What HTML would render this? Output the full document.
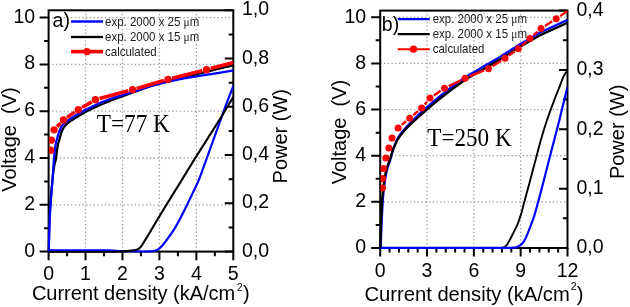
<!DOCTYPE html>
<html><head><meta charset="utf-8"><title>I-V and P-I characteristics</title>
<style>
html,body{margin:0;padding:0;background:#fff;}
body{width:630px;height:307px;overflow:hidden;font-family:"Liberation Sans",sans-serif;}
svg{display:block;will-change:transform;}
</style></head>
<body>
<svg width="630" height="307" viewBox="0 0 630 307">
<defs>
<clipPath id="cl"><rect x="47.4" y="9.3" width="185.90" height="243.50"/></clipPath>
<clipPath id="cr"><rect x="379.0" y="9.6" width="188.50" height="239.60"/></clipPath>
<clipPath id="cl2"><rect x="48.9" y="9.3" width="184.40" height="242.30"/></clipPath>
<clipPath id="cr2"><rect x="380.5" y="9.6" width="187.00" height="238.40"/></clipPath>
</defs>
<rect width="630" height="307" fill="#fff"/>
<g stroke="#9a9a9a" stroke-width="1.3" stroke-dasharray="1.3 2.45" fill="none"><line x1="85.54" y1="251.60" x2="85.54" y2="10.30"/><line x1="122.48" y1="251.60" x2="122.48" y2="10.30"/><line x1="159.42" y1="251.60" x2="159.42" y2="10.30"/><line x1="196.36" y1="251.60" x2="196.36" y2="10.30"/><line x1="48.60" y1="204.80" x2="233.30" y2="204.80"/><line x1="48.60" y1="158.00" x2="233.30" y2="158.00"/><line x1="48.60" y1="111.20" x2="233.30" y2="111.20"/><line x1="48.60" y1="64.40" x2="233.30" y2="64.40"/><line x1="48.60" y1="17.60" x2="233.30" y2="17.60"/></g><g stroke="#9a9a9a" stroke-width="1.3" stroke-dasharray="1.3 2.45" fill="none"><line x1="427.02" y1="248.00" x2="427.02" y2="10.60"/><line x1="473.85" y1="248.00" x2="473.85" y2="10.60"/><line x1="520.67" y1="248.00" x2="520.67" y2="10.60"/><line x1="380.20" y1="201.86" x2="567.50" y2="201.86"/><line x1="380.20" y1="155.72" x2="567.50" y2="155.72"/><line x1="380.20" y1="109.58" x2="567.50" y2="109.58"/><line x1="380.20" y1="63.44" x2="567.50" y2="63.44"/><line x1="380.20" y1="17.30" x2="567.50" y2="17.30"/></g><rect x="48.6" y="10.3" width="184.70" height="241.30" fill="none" stroke="#000" stroke-width="2"/><rect x="380.2" y="10.6" width="187.30" height="237.40" fill="none" stroke="#000" stroke-width="2"/><path d="M39.60,251.60 H48.60 M44.10,228.20 H48.60 M39.60,204.80 H48.60 M44.10,181.40 H48.60 M39.60,158.00 H48.60 M44.10,134.60 H48.60 M39.60,111.20 H48.60 M44.10,87.80 H48.60 M39.60,64.40 H48.60 M44.10,41.00 H48.60 M39.60,17.60 H48.60 M48.60,251.60 V260.20 M67.07,251.60 V256.20 M85.54,251.60 V260.20 M104.01,251.60 V256.20 M122.48,251.60 V260.20 M140.95,251.60 V256.20 M159.42,251.60 V260.20 M177.89,251.60 V256.20 M196.36,251.60 V260.20 M214.83,251.60 V256.20 M233.30,251.60 V260.20 M224.80,251.60 H233.30 M228.70,227.47 H233.30 M224.80,203.34 H233.30 M228.70,179.21 H233.30 M224.80,155.08 H233.30 M228.70,130.95 H233.30 M224.80,106.82 H233.30 M228.70,82.69 H233.30 M224.80,58.56 H233.30 M228.70,34.43 H233.30 M224.80,10.30 H233.30 M371.20,248.00 H380.20 M375.70,224.93 H380.20 M371.20,201.86 H380.20 M375.70,178.79 H380.20 M371.20,155.72 H380.20 M375.70,132.65 H380.20 M371.20,109.58 H380.20 M375.70,86.51 H380.20 M371.20,63.44 H380.20 M375.70,40.37 H380.20 M371.20,17.30 H380.20 M380.20,248.00 V256.60 M389.56,248.00 V252.60 M398.93,248.00 V252.60 M408.29,248.00 V252.60 M417.66,248.00 V252.60 M427.02,248.00 V256.60 M436.39,248.00 V252.60 M445.75,248.00 V252.60 M455.12,248.00 V252.60 M464.49,248.00 V252.60 M473.85,248.00 V256.60 M483.21,248.00 V252.60 M492.58,248.00 V252.60 M501.94,248.00 V252.60 M511.31,248.00 V252.60 M520.67,248.00 V256.60 M530.04,248.00 V252.60 M539.40,248.00 V252.60 M548.77,248.00 V252.60 M558.13,248.00 V252.60 M567.50,248.00 V256.60 M559.00,248.00 H567.50 M562.90,218.32 H567.50 M559.00,188.65 H567.50 M562.90,158.97 H567.50 M559.00,129.30 H567.50 M562.90,99.62 H567.50 M559.00,69.95 H567.50 M562.90,40.28 H567.50 M559.00,10.60 H567.50" stroke="#000" stroke-width="2" fill="none"/><g clip-path="url(#cl)"><path d="M48.60,250.40 L49.61,250.40 L50.61,250.40 L51.62,250.40 L52.63,250.40 L53.63,250.40 L54.64,250.40 L55.65,250.40 L56.65,250.40 L57.66,250.40 L58.67,250.40 L59.67,250.40 L60.68,250.40 L61.69,250.40 L62.69,250.40 L63.70,250.40 L64.70,250.40 L65.71,250.40 L66.72,250.40 L67.72,250.40 L68.73,250.40 L69.74,250.40 L70.74,250.40 L71.75,250.40 L72.76,250.40 L73.76,250.40 L74.77,250.40 L75.78,250.40 L76.78,250.40 L77.79,250.40 L78.80,250.40 L79.80,250.40 L80.81,250.40 L81.82,250.40 L82.82,250.40 L83.83,250.40 L84.84,250.40 L85.84,250.40 L86.85,250.40 L87.86,250.40 L88.86,250.40 L89.87,250.40 L90.88,250.40 L91.88,250.40 L92.89,250.40 L93.90,250.40 L94.90,250.40 L95.91,250.40 L96.91,250.40 L97.92,250.40 L98.93,250.40 L99.93,250.40 L100.94,250.40 L101.95,250.40 L102.95,250.40 L103.96,250.40 L104.97,250.40 L105.97,250.40 L106.98,250.40 L107.99,250.41 L108.99,250.43 L109.99,250.46 L111.00,250.50 L112.00,250.55 L113.00,250.62 L114.00,250.69 L115.00,250.76 L116.00,250.83 L117.00,250.91 L118.00,250.99 L119.00,251.07 L120.00,251.16 L121.00,251.24 L122.00,251.31 L123.00,251.38 L124.00,251.43 L125.00,251.47 L126.00,251.49 L127.00,251.50 L128.00,251.50 L129.00,251.50 L130.00,251.50 L131.00,251.50 L132.50,251.50 L133.50,251.50 L134.50,251.50 L135.50,251.50 L136.50,251.50 L138.00,251.50 L139.00,251.50 L140.50,251.50 L141.50,251.50 L143.00,251.50 L144.00,251.50 L145.00,251.50 L146.00,251.50 L147.00,251.49 L148.00,251.48 L149.00,251.46 L150.00,251.42 L151.00,251.36 L152.00,251.26 L153.00,251.13 L154.00,250.95 L154.99,250.70 L155.97,250.36 L156.93,249.94 L157.86,249.43 L158.75,248.86 L159.59,248.24 L160.39,247.57 L161.15,246.85 L161.87,246.09 L162.55,245.29 L163.21,244.47 L163.87,243.64 L164.52,242.80 L165.18,241.95 L165.83,241.11 L166.48,240.26 L167.13,239.41 L167.76,238.56 L168.38,237.71 L168.99,236.86 L169.60,236.00 L170.20,235.14 L170.80,234.29 L171.40,233.43 L171.99,232.57 L172.58,231.71 L173.16,230.85 L173.72,229.98 L174.26,229.11 L174.78,228.24 L175.28,227.36 L175.78,226.48 L176.28,225.60 L176.78,224.72 L177.27,223.84 L177.77,222.96 L178.26,222.08 L178.76,221.20 L179.24,220.31 L179.73,219.43 L180.20,218.54 L180.67,217.64 L181.12,216.74 L181.58,215.84 L182.03,214.94 L182.48,214.03 L182.94,213.13 L183.39,212.23 L183.84,211.32 L184.29,210.42 L184.74,209.52 L185.19,208.61 L185.64,207.71 L186.10,206.80 L186.55,205.89 L186.99,204.98 L187.44,204.07 L187.89,203.14 L188.33,202.22 L188.78,201.30 L189.22,200.37 L189.67,199.44 L190.11,198.52 L190.56,197.59 L191.00,196.67 L191.44,195.74 L191.89,194.81 L192.33,193.89 L192.77,192.96 L193.21,192.04 L193.65,191.11 L194.09,190.19 L194.53,189.26 L194.97,188.33 L195.40,187.41 L195.84,186.48 L196.28,185.56 L196.71,184.63 L197.15,183.70 L197.58,182.78 L198.01,181.85 L198.43,180.91 L198.83,179.98 L199.21,179.03 L199.58,178.08 L199.93,177.13 L200.29,176.18 L200.63,175.22 L200.98,174.27 L201.33,173.31 L201.67,172.36 L202.02,171.40 L202.37,170.44 L202.71,169.49 L203.06,168.53 L203.41,167.58 L203.75,166.62 L204.10,165.67 L204.45,164.71 L204.79,163.76 L205.14,162.80 L205.49,161.84 L205.83,160.89 L206.18,159.93 L206.52,158.98 L206.87,158.03 L207.21,157.08 L207.55,156.13 L207.89,155.18 L208.23,154.23 L208.57,153.28 L208.91,152.32 L209.25,151.38 L209.59,150.42 L209.93,149.47 L210.27,148.53 L210.61,147.58 L210.95,146.63 L211.29,145.68 L211.63,144.72 L211.97,143.78 L212.31,142.83 L212.65,141.88 L212.99,140.92 L213.33,139.98 L213.68,139.03 L214.02,138.07 L214.36,137.12 L214.71,136.17 L215.05,135.22 L215.40,134.27 L215.74,133.33 L216.09,132.37 L216.43,131.42 L216.78,130.47 L217.12,129.53 L217.47,128.58 L217.81,127.62 L218.16,126.67 L218.50,125.73 L218.85,124.78 L219.19,123.83 L219.54,122.88 L219.88,121.93 L220.22,120.98 L220.57,120.03 L220.91,119.08 L221.25,118.14 L221.59,117.19 L221.92,116.25 L222.26,115.31 L222.60,114.36 L222.94,113.42 L223.28,112.47 L223.62,111.53 L223.96,110.58 L224.30,109.64 L224.64,108.69 L224.98,107.75 L225.31,106.81 L225.66,105.86 L226.00,104.92 L226.35,103.97 L226.70,103.03 L227.06,102.08 L227.42,101.13 L227.79,100.19 L228.15,99.24 L228.52,98.30 L228.89,97.35 L229.26,96.41 L229.62,95.46 L229.99,94.51 L230.36,93.57 L230.73,92.62 L231.09,91.68 L231.46,90.73 L231.83,89.78 L232.20,88.84 L232.56,87.89 L232.93,86.95 L233.30,86.00" fill="none" stroke="#0000ff" stroke-width="2.2" stroke-linejoin="round" stroke-linecap="butt"/><path d="M48.60,252.00 L49.61,252.00 L50.61,252.00 L51.62,252.00 L52.63,252.00 L53.63,252.00 L54.64,252.00 L55.64,252.00 L56.65,252.00 L57.66,252.00 L58.66,252.00 L59.67,252.00 L60.68,252.00 L61.68,252.00 L62.69,252.00 L63.70,252.00 L64.70,252.00 L65.71,252.00 L66.71,252.00 L67.72,252.00 L68.73,252.00 L69.73,252.00 L70.74,252.00 L71.75,252.00 L72.75,252.00 L73.76,252.00 L74.77,252.00 L75.77,252.00 L76.78,252.00 L77.78,252.00 L78.79,252.00 L79.80,252.00 L80.80,252.00 L81.81,252.00 L82.82,252.00 L83.82,252.00 L84.83,252.00 L85.83,252.00 L86.84,252.00 L87.85,252.00 L88.85,252.00 L89.86,252.00 L90.87,252.00 L91.87,252.00 L92.88,252.00 L93.89,252.00 L94.89,252.00 L95.90,252.00 L96.90,252.00 L97.91,252.00 L98.92,252.00 L99.92,252.00 L100.93,252.00 L101.94,252.00 L102.94,252.00 L103.95,252.00 L104.96,252.00 L105.96,252.00 L106.97,252.00 L107.97,252.00 L108.98,252.00 L109.99,251.99 L110.99,251.99 L111.99,251.97 L113.00,251.95 L114.00,251.92 L115.00,251.89 L116.00,251.85 L117.00,251.81 L118.00,251.77 L119.00,251.72 L120.00,251.66 L121.00,251.59 L122.00,251.51 L123.00,251.43 L124.00,251.34 L125.00,251.25 L126.00,251.16 L127.00,251.07 L128.00,250.97 L129.00,250.87 L130.00,250.76 L131.00,250.64 L132.00,250.51 L133.00,250.38 L134.00,250.23 L134.99,250.07 L135.98,249.86 L137.40,249.43 L138.70,248.77 L139.83,247.85 L140.82,246.74 L141.43,245.93 L142.01,245.09 L142.57,244.23 L143.13,243.36 L143.67,242.48 L144.22,241.60 L144.76,240.72 L145.31,239.84 L145.85,238.96 L146.40,238.08 L146.94,237.20 L147.48,236.32 L148.01,235.45 L148.54,234.57 L149.07,233.70 L149.59,232.83 L150.10,231.97 L150.62,231.10 L151.14,230.23 L151.65,229.37 L152.17,228.50 L152.68,227.63 L153.20,226.77 L153.72,225.90 L154.23,225.03 L154.75,224.17 L155.26,223.30 L155.78,222.43 L156.29,221.57 L156.81,220.70 L157.33,219.83 L157.84,218.97 L158.36,218.10 L158.87,217.23 L159.39,216.37 L159.91,215.50 L160.42,214.63 L160.94,213.77 L161.45,212.90 L161.97,212.03 L162.49,211.17 L163.01,210.31 L163.54,209.44 L164.07,208.58 L164.60,207.72 L165.13,206.86 L165.67,206.00 L166.20,205.14 L166.73,204.28 L167.27,203.42 L167.80,202.56 L168.33,201.70 L168.87,200.84 L169.40,199.98 L169.93,199.12 L170.47,198.26 L171.00,197.40 L171.53,196.54 L172.07,195.68 L172.60,194.82 L173.13,193.96 L173.67,193.10 L174.20,192.24 L174.73,191.38 L175.27,190.52 L175.80,189.66 L176.33,188.80 L176.87,187.94 L177.40,187.08 L177.93,186.22 L178.46,185.36 L178.99,184.50 L179.52,183.64 L180.05,182.78 L180.58,181.92 L181.11,181.06 L181.63,180.20 L182.16,179.34 L182.68,178.48 L183.21,177.62 L183.74,176.76 L184.26,175.90 L184.79,175.04 L185.32,174.18 L185.84,173.32 L186.37,172.46 L186.89,171.61 L187.42,170.75 L187.95,169.89 L188.47,169.03 L189.00,168.17 L189.53,167.31 L190.05,166.45 L190.58,165.59 L191.11,164.73 L191.63,163.87 L192.16,163.01 L192.69,162.15 L193.21,161.29 L193.75,160.43 L194.28,159.58 L194.82,158.72 L195.36,157.87 L195.90,157.01 L196.44,156.16 L196.98,155.30 L197.52,154.45 L198.06,153.59 L198.60,152.74 L199.15,151.89 L199.69,151.03 L200.23,150.18 L200.77,149.32 L201.31,148.47 L201.85,147.61 L202.40,146.76 L202.94,145.91 L203.48,145.05 L204.02,144.20 L204.56,143.34 L205.10,142.49 L205.65,141.64 L206.19,140.78 L206.73,139.93 L207.27,139.08 L207.81,138.23 L208.35,137.38 L208.89,136.53 L209.43,135.68 L209.97,134.84 L210.50,133.99 L211.04,133.14 L211.58,132.29 L212.12,131.45 L212.66,130.60 L213.20,129.75 L213.74,128.90 L214.28,128.05 L214.82,127.21 L215.36,126.36 L215.90,125.51 L216.43,124.66 L216.97,123.82 L217.51,122.97 L218.05,122.12 L218.59,121.27 L219.12,120.41 L219.65,119.55 L220.18,118.69 L220.71,117.83 L221.24,116.96 L221.76,116.09 L222.28,115.23 L222.81,114.36 L223.33,113.49 L223.86,112.62 L224.38,111.75 L224.91,110.89 L225.43,110.02 L225.96,109.15 L226.48,108.28 L227.01,107.42 L227.53,106.55 L228.05,105.68 L228.58,104.81 L229.10,103.94 L229.63,103.08 L230.15,102.21 L230.68,101.34 L231.20,100.47 L231.73,99.60 L232.25,98.74 L232.78,97.87 L233.30,97.00" fill="none" stroke="#000" stroke-width="2.1" stroke-linejoin="round" stroke-linecap="butt"/><path d="M48.70,251.50 L48.72,250.50 L48.73,249.50 L48.75,248.50 L48.76,247.50 L48.78,246.50 L48.79,245.50 L48.81,244.50 L48.82,243.50 L48.84,242.50 L48.85,241.50 L48.87,240.50 L48.88,239.50 L48.90,238.50 L48.92,237.50 L48.93,236.50 L48.95,235.50 L48.96,234.50 L48.98,233.50 L49.00,232.50 L49.02,231.50 L49.05,230.50 L49.09,229.50 L49.12,228.50 L49.16,227.50 L49.19,226.50 L49.23,225.50 L49.26,224.50 L49.30,223.50 L49.34,222.50 L49.37,221.50 L49.41,220.50 L49.44,219.50 L49.48,218.50 L49.51,217.50 L49.55,216.50 L49.59,215.50 L49.64,214.50 L49.70,213.50 L49.77,212.50 L49.83,211.50 L49.90,210.50 L49.97,209.50 L50.03,208.50 L50.10,207.50 L50.17,206.50 L50.23,205.50 L50.30,204.50 L50.37,203.50 L50.43,202.50 L50.50,201.50 L50.57,200.50 L50.65,199.50 L50.74,198.50 L50.83,197.50 L50.93,196.50 L51.02,195.50 L51.11,194.50 L51.21,193.50 L51.30,192.50 L51.39,191.50 L51.49,190.50 L51.58,189.50 L51.67,188.50 L51.77,187.50 L51.86,186.50 L51.95,185.50 L52.05,184.50 L52.14,183.50 L52.23,182.50 L52.32,181.50 L52.42,180.50 L52.51,179.50 L52.60,178.50 L52.69,177.50 L52.78,176.50 L52.88,175.50 L52.97,174.50 L53.06,173.50 L53.17,172.50 L53.29,171.50 L53.45,170.50 L53.61,169.50 L53.77,168.50 L53.93,167.50 L54.09,166.50 L54.26,165.50 L54.45,164.50 L54.69,163.50 L54.99,162.50 L55.31,161.50 L55.60,160.50 L55.82,159.50 L55.97,158.50 L56.10,157.50 L56.22,156.50 L56.34,155.50 L56.46,154.50 L56.58,153.50 L56.70,152.50 L56.82,151.50 L56.95,150.50 L57.11,149.50 L57.28,148.50 L57.46,147.50 L57.65,146.50 L57.84,145.50 L58.02,144.50 L58.23,143.50 L58.47,142.50 L58.75,141.50 L59.05,140.50 L59.35,139.50 L59.64,138.50 L59.93,137.50 L60.21,136.50 L60.50,135.50 L60.79,134.50 L61.08,133.50 L61.39,132.51 L61.75,131.54 L62.16,130.59 L62.60,129.65 L63.05,128.71 L63.52,127.80 L64.07,126.95 L64.69,126.15 L65.35,125.38 L66.06,124.65 L66.81,123.97 L67.60,123.32 L68.40,122.68 L69.20,122.05 L70.02,121.44 L70.86,120.86 L71.71,120.31 L72.57,119.77 L73.43,119.23 L74.29,118.69 L75.14,118.14 L76.00,117.61 L76.87,117.08 L77.74,116.56 L78.61,116.03 L79.48,115.51 L80.35,114.99 L81.22,114.47 L82.09,113.95 L82.96,113.43 L83.83,112.90 L84.70,112.38 L85.57,111.88 L86.46,111.40 L87.36,110.95 L88.26,110.52 L89.16,110.09 L90.06,109.65 L90.97,109.22 L91.87,108.79 L92.77,108.36 L93.68,107.93 L94.58,107.49 L95.48,107.06 L96.39,106.63 L97.29,106.20 L98.19,105.76 L99.10,105.34 L100.02,104.92 L100.96,104.52 L101.92,104.13 L102.88,103.75 L103.84,103.36 L104.80,102.98 L105.76,102.60 L106.72,102.21 L107.68,101.83 L108.64,101.44 L109.60,101.06 L110.56,100.68 L111.52,100.30 L112.47,99.93 L113.42,99.58 L114.37,99.23 L115.32,98.88 L116.26,98.54 L117.21,98.19 L118.16,97.84 L119.11,97.49 L120.05,97.15 L121.00,96.80 L121.95,96.45 L122.89,96.11 L123.84,95.76 L124.79,95.41 L125.74,95.06 L126.68,94.72 L127.63,94.37 L128.58,94.02 L129.53,93.67 L130.48,93.33 L131.43,92.98 L132.38,92.63 L133.33,92.28 L134.29,91.94 L135.24,91.59 L136.19,91.24 L137.14,90.89 L138.10,90.55 L139.05,90.20 L140.00,89.85 L140.95,89.50 L141.90,89.15 L142.86,88.81 L143.81,88.46 L144.76,88.11 L145.71,87.76 L146.67,87.42 L147.62,87.07 L148.57,86.72 L149.53,86.39 L150.49,86.07 L151.46,85.78 L152.43,85.50 L153.41,85.22 L154.38,84.94 L155.35,84.65 L156.32,84.37 L157.30,84.09 L158.27,83.81 L159.24,83.53 L160.22,83.25 L161.19,82.97 L162.16,82.69 L163.14,82.41 L164.11,82.12 L165.08,81.84 L166.05,81.56 L167.03,81.28 L168.01,81.02 L169.00,80.77 L170.00,80.53 L171.00,80.29 L172.00,80.06 L173.00,79.82 L174.00,79.59 L175.00,79.35 L176.00,79.12 L177.00,78.88 L178.00,78.65 L179.00,78.41 L180.00,78.18 L181.00,77.94 L182.00,77.71 L183.00,77.47 L184.00,77.23 L185.00,77.00 L186.00,76.76 L187.00,76.52 L188.00,76.28 L189.00,76.04 L190.00,75.80 L191.00,75.56 L192.00,75.32 L193.00,75.08 L194.00,74.84 L195.00,74.60 L196.00,74.36 L197.00,74.12 L198.00,73.88 L199.00,73.64 L200.00,73.39 L201.00,73.14 L202.00,72.88 L203.00,72.62 L204.00,72.36 L205.00,72.10 L206.00,71.84 L207.00,71.58 L208.00,71.32 L209.00,71.06 L210.00,70.80 L211.00,70.54 L212.00,70.28 L213.00,70.02 L214.00,69.76 L215.00,69.51 L215.99,69.28 L216.98,69.05 L217.97,68.82 L218.96,68.59 L219.95,68.36 L220.94,68.14 L221.92,67.91 L222.91,67.68 L223.90,67.46 L224.89,67.23 L225.88,67.00 L226.87,66.78 L227.86,66.55 L228.85,66.32 L229.84,66.09 L230.83,65.87 L231.82,65.64 L232.81,65.41 L233.30,65.30" fill="none" stroke="#000" stroke-width="2.3" stroke-linejoin="round" stroke-linecap="butt"/><path d="M48.70,251.50 L48.73,250.50 L48.76,249.50 L48.79,248.50 L48.82,247.50 L48.85,246.50 L48.88,245.50 L48.92,244.50 L48.95,243.50 L48.98,242.50 L49.01,241.50 L49.04,240.50 L49.07,239.50 L49.10,238.50 L49.13,237.50 L49.16,236.50 L49.19,235.50 L49.22,234.50 L49.25,233.50 L49.29,232.50 L49.32,231.50 L49.35,230.50 L49.39,229.50 L49.42,228.50 L49.46,227.50 L49.49,226.50 L49.53,225.50 L49.56,224.50 L49.60,223.50 L49.64,222.50 L49.67,221.50 L49.71,220.50 L49.74,219.50 L49.78,218.50 L49.81,217.50 L49.85,216.50 L49.89,215.50 L49.94,214.50 L50.00,213.50 L50.07,212.50 L50.13,211.50 L50.20,210.50 L50.27,209.50 L50.33,208.50 L50.40,207.50 L50.47,206.50 L50.53,205.50 L50.60,204.50 L50.67,203.50 L50.73,202.50 L50.80,201.50 L50.87,200.50 L50.94,199.50 L51.02,198.50 L51.10,197.50 L51.18,196.50 L51.25,195.50 L51.33,194.50 L51.41,193.50 L51.49,192.50 L51.57,191.50 L51.65,190.50 L51.73,189.50 L51.80,188.50 L51.88,187.50 L51.96,186.50 L52.04,185.50 L52.12,184.50 L52.20,183.50 L52.29,182.50 L52.37,181.50 L52.45,180.50 L52.53,179.50 L52.61,178.50 L52.70,177.50 L52.78,176.50 L52.86,175.50 L52.93,174.50 L53.00,173.50 L53.07,172.50 L53.13,171.50 L53.20,170.50 L53.27,169.50 L53.33,168.50 L53.40,167.50 L53.47,166.50 L53.53,165.50 L53.60,164.50 L53.67,163.50 L53.73,162.50 L53.80,161.50 L53.87,160.50 L53.95,159.50 L54.03,158.50 L54.12,157.50 L54.21,156.50 L54.29,155.50 L54.38,154.50 L54.47,153.50 L54.56,152.50 L54.68,151.50 L54.80,150.50 L54.93,149.50 L55.07,148.50 L55.20,147.50 L55.35,146.50 L55.51,145.50 L55.70,144.50 L55.90,143.50 L56.10,142.50 L56.32,141.50 L56.56,140.50 L56.82,139.50 L57.10,138.50 L57.38,137.50 L57.67,136.50 L57.97,135.50 L58.28,134.50 L58.60,133.50 L58.92,132.50 L59.27,131.50 L59.66,130.50 L60.10,129.50 L60.57,128.50 L61.04,127.51 L61.55,126.57 L62.11,125.68 L62.72,124.84 L63.42,124.04 L64.22,123.28 L65.10,122.54 L66.00,121.84 L66.89,121.19 L67.78,120.56 L68.67,119.94 L69.55,119.33 L70.42,118.75 L71.28,118.21 L72.14,117.68 L73.00,117.15 L73.86,116.62 L74.71,116.09 L75.57,115.57 L76.44,115.06 L77.30,114.56 L78.17,114.06 L79.04,113.57 L79.91,113.07 L80.78,112.57 L81.65,112.08 L82.52,111.58 L83.39,111.09 L84.26,110.59 L85.13,110.10 L86.01,109.62 L86.91,109.17 L87.81,108.74 L88.71,108.30 L89.61,107.87 L90.52,107.44 L91.42,107.01 L92.32,106.57 L93.23,106.14 L94.13,105.71 L95.03,105.28 L95.94,104.85 L96.84,104.41 L97.74,103.98 L98.65,103.55 L99.56,103.13 L100.49,102.73 L101.44,102.35 L102.40,101.98 L103.36,101.61 L104.32,101.24 L105.28,100.88 L106.24,100.51 L107.20,100.14 L108.16,99.77 L109.12,99.40 L110.08,99.04 L111.04,98.67 L112.01,98.33 L112.97,98.01 L113.95,97.71 L114.92,97.41 L115.89,97.11 L116.86,96.81 L117.84,96.52 L118.81,96.22 L119.78,95.92 L120.76,95.62 L121.73,95.33 L122.70,95.03 L123.68,94.73 L124.65,94.44 L125.62,94.14 L126.59,93.84 L127.57,93.54 L128.54,93.25 L129.51,92.95 L130.47,92.64 L131.43,92.34 L132.38,92.03 L133.33,91.72 L134.29,91.41 L135.24,91.10 L136.19,90.79 L137.14,90.48 L138.10,90.17 L139.05,89.86 L140.00,89.55 L140.95,89.24 L141.90,88.93 L142.86,88.62 L143.81,88.31 L144.76,88.00 L145.71,87.69 L146.67,87.38 L147.62,87.07 L148.57,86.77 L149.53,86.47 L150.49,86.18 L151.46,85.92 L152.43,85.66 L153.41,85.41 L154.38,85.16 L155.35,84.90 L156.32,84.65 L157.30,84.39 L158.27,84.14 L159.24,83.89 L160.22,83.63 L161.19,83.38 L162.16,83.12 L163.14,82.87 L164.11,82.62 L165.08,82.36 L166.05,82.11 L167.03,81.86 L168.01,81.62 L169.00,81.40 L170.00,81.20 L171.00,81.00 L172.00,80.80 L173.00,80.60 L174.00,80.40 L175.00,80.20 L176.00,80.00 L177.00,79.80 L178.00,79.60 L179.00,79.40 L180.00,79.20 L181.00,79.00 L182.00,78.80 L183.00,78.60 L184.00,78.40 L185.00,78.22 L186.00,78.04 L187.00,77.88 L188.00,77.72 L189.00,77.56 L190.00,77.40 L191.00,77.24 L192.00,77.08 L193.00,76.92 L194.00,76.76 L195.00,76.60 L196.00,76.44 L197.00,76.28 L198.00,76.12 L199.00,75.96 L200.00,75.80 L201.00,75.64 L202.00,75.48 L203.00,75.32 L204.00,75.16 L205.00,75.00 L206.00,74.85 L207.00,74.70 L208.00,74.55 L209.00,74.40 L210.00,74.25 L211.00,74.10 L212.00,73.95 L213.00,73.80 L214.00,73.65 L215.00,73.50 L215.99,73.34 L216.98,73.18 L217.97,73.01 L218.96,72.85 L219.95,72.69 L220.94,72.53 L221.92,72.36 L222.91,72.20 L223.90,72.04 L224.89,71.88 L225.88,71.72 L226.87,71.55 L227.86,71.39 L228.85,71.23 L229.84,71.07 L230.83,70.91 L231.82,70.74 L232.81,70.58 L233.30,70.50" fill="none" stroke="#0000ff" stroke-width="2.3" stroke-linejoin="round" stroke-linecap="butt"/></g><g clip-path="url(#cl2)"><path d="M57.06,126.68 L60.54,123.02 M67.04,117.46 L74.76,112.14 M82.01,107.53 L91.69,101.87 M99.55,98.57 L128.45,90.73 M136.73,88.41 L163.87,80.59 M172.17,78.35 L202.33,70.75 M210.65,68.58 L233.30,62.50" stroke="#ff0000" stroke-width="3.6" fill="none"/><g fill="#ff0000"><circle cx="50.7" cy="150.2" r="3.65"/><circle cx="51.3" cy="140.2" r="3.65"/><circle cx="54.1" cy="129.8" r="3.65"/><circle cx="63.5" cy="119.9" r="3.65"/><circle cx="78.3" cy="109.7" r="3.65"/><circle cx="95.4" cy="99.7" r="3.65"/><circle cx="132.6" cy="89.6" r="3.65"/><circle cx="168" cy="79.4" r="3.65"/><circle cx="206.5" cy="69.7" r="3.65"/></g></g><g clip-path="url(#cr)"><path d="M380.20,248.00 L381.20,248.00 L382.21,248.00 L383.21,248.00 L384.21,248.00 L385.21,248.00 L386.22,248.00 L387.22,248.00 L388.22,248.00 L389.22,248.00 L390.23,248.00 L391.23,248.00 L392.23,248.00 L393.23,248.00 L394.24,248.00 L395.24,248.00 L396.24,248.00 L397.24,248.00 L398.25,248.00 L399.25,248.00 L400.25,248.00 L401.25,248.00 L402.26,248.00 L403.26,248.00 L404.26,248.00 L405.26,248.00 L406.27,248.00 L407.27,248.00 L408.27,248.00 L409.27,248.00 L410.28,248.00 L411.28,248.00 L412.28,248.00 L413.28,248.00 L414.29,248.00 L415.29,248.00 L416.29,248.00 L417.29,248.00 L418.30,248.00 L419.30,248.00 L420.30,248.00 L421.30,248.00 L422.31,248.00 L423.31,248.00 L424.31,248.00 L425.31,248.00 L426.32,248.00 L427.32,248.00 L428.32,248.00 L429.32,248.00 L430.33,248.00 L431.33,248.00 L432.33,248.00 L433.33,248.00 L434.34,248.00 L435.34,248.00 L436.34,248.00 L437.34,248.00 L438.35,248.00 L439.35,248.00 L440.35,248.00 L441.35,248.00 L442.36,248.00 L443.36,248.00 L444.36,248.00 L445.36,248.00 L446.37,248.00 L447.37,248.00 L448.37,248.00 L449.37,248.00 L450.38,248.00 L451.38,248.00 L452.38,248.00 L453.38,248.00 L454.39,248.00 L455.39,248.00 L456.39,248.00 L457.39,248.00 L458.40,248.00 L459.40,248.00 L460.40,248.00 L461.40,248.00 L462.41,248.00 L463.41,248.00 L464.41,248.00 L465.41,248.00 L466.42,248.00 L467.42,248.00 L468.42,248.00 L469.42,248.00 L470.43,248.00 L471.43,248.00 L472.43,248.00 L473.43,248.00 L474.44,248.00 L475.44,248.00 L476.44,248.00 L477.44,248.00 L478.45,248.00 L479.45,248.00 L480.45,248.00 L481.45,248.00 L482.46,248.00 L483.46,248.00 L484.46,248.00 L485.46,248.00 L486.47,248.00 L487.47,248.00 L488.47,248.00 L489.47,248.00 L490.48,248.00 L491.48,248.00 L492.48,248.00 L493.48,248.00 L494.49,248.00 L495.49,248.00 L496.49,248.00 L497.49,247.99 L498.50,247.98 L499.50,247.95 L500.50,247.90 L501.99,247.74 L503.44,247.42 L504.80,246.80 L505.62,246.20 L506.35,245.46 L507.00,244.63 L507.60,243.74 L508.15,242.83 L508.68,241.90 L509.20,240.97 L509.71,240.04 L510.20,239.12 L510.69,238.19 L511.17,237.27 L511.64,236.35 L512.11,235.43 L512.57,234.52 L513.03,233.61 L513.48,232.70 L513.92,231.80 L514.37,230.90 L514.81,230.00 L515.25,229.10 L515.69,228.20 L516.13,227.30 L516.57,226.40 L517.00,225.49 L517.41,224.57 L517.81,223.64 L518.18,222.69 L518.54,221.72 L518.88,220.75 L519.21,219.77 L519.54,218.79 L519.86,217.81 L520.19,216.83 L520.51,215.85 L520.83,214.87 L521.14,213.89 L521.44,212.91 L521.71,211.93 L521.98,210.96 L522.23,209.98 L522.48,209.01 L522.73,208.04 L522.97,207.06 L523.22,206.09 L523.47,205.12 L523.72,204.14 L523.97,203.15 L524.23,202.16 L524.50,201.15 L524.78,200.13 L525.06,199.11 L525.34,198.09 L525.62,197.07 L525.91,196.05 L526.18,195.05 L526.45,194.06 L526.72,193.08 L526.98,192.11 L527.25,191.14 L527.51,190.17 L527.77,189.21 L528.03,188.24 L528.30,187.28 L528.56,186.31 L528.82,185.34 L529.08,184.38 L529.34,183.41 L529.61,182.45 L529.87,181.48 L530.12,180.51 L530.38,179.54 L530.64,178.56 L530.90,177.59 L531.15,176.62 L531.41,175.64 L531.67,174.67 L531.92,173.69 L532.18,172.72 L532.44,171.74 L532.69,170.77 L532.95,169.79 L533.21,168.82 L533.46,167.85 L533.72,166.87 L533.97,165.90 L534.23,164.92 L534.49,163.95 L534.74,162.97 L535.00,162.00 L535.26,161.03 L535.51,160.05 L535.77,159.08 L536.03,158.10 L536.28,157.13 L536.54,156.15 L536.79,155.18 L537.05,154.21 L537.31,153.23 L537.56,152.26 L537.82,151.28 L538.08,150.31 L538.33,149.33 L538.59,148.36 L538.85,147.38 L539.10,146.41 L539.36,145.44 L539.62,144.46 L539.89,143.49 L540.15,142.52 L540.43,141.56 L540.71,140.59 L540.99,139.63 L541.27,138.67 L541.55,137.70 L541.83,136.74 L542.11,135.78 L542.39,134.81 L542.67,133.85 L542.96,132.89 L543.24,131.92 L543.53,130.95 L543.83,129.97 L544.14,128.99 L544.45,127.99 L544.76,127.00 L545.08,126.00 L545.40,125.00 L545.72,124.00 L546.04,123.00 L546.36,122.01 L546.69,121.02 L547.02,120.04 L547.35,119.07 L547.69,118.10 L548.03,117.15 L548.37,116.19 L548.71,115.24 L549.06,114.29 L549.40,113.33 L549.74,112.38 L550.09,111.43 L550.43,110.47 L550.78,109.52 L551.13,108.56 L551.48,107.60 L551.83,106.64 L552.18,105.68 L552.54,104.72 L552.89,103.76 L553.24,102.80 L553.59,101.84 L553.95,100.88 L554.30,99.92 L554.66,98.97 L555.03,98.01 L555.40,97.06 L555.78,96.11 L556.17,95.17 L556.56,94.22 L556.94,93.28 L557.33,92.33 L557.72,91.39 L558.10,90.44 L558.48,89.48 L558.85,88.53 L559.22,87.57 L559.59,86.61 L559.96,85.64 L560.32,84.68 L560.69,83.71 L561.05,82.75 L561.41,81.79 L561.78,80.82 L562.15,79.86 L562.52,78.90 L562.91,77.94 L563.33,76.99 L563.79,76.06 L564.29,75.14 L564.84,74.23 L565.41,73.33 L566.00,72.43 L566.60,71.54 L567.20,70.65 L567.50,70.20" fill="none" stroke="#000" stroke-width="1.9" stroke-linejoin="round" stroke-linecap="butt"/><path d="M380.20,247.80 L381.20,247.80 L382.20,247.80 L383.21,247.80 L384.21,247.80 L385.21,247.80 L386.21,247.80 L387.22,247.80 L388.22,247.80 L389.22,247.80 L390.22,247.80 L391.23,247.80 L392.23,247.80 L393.23,247.80 L394.23,247.80 L395.23,247.80 L396.24,247.80 L397.24,247.80 L398.24,247.80 L399.24,247.80 L400.25,247.80 L401.25,247.80 L402.25,247.80 L403.25,247.80 L404.25,247.80 L405.26,247.80 L406.26,247.80 L407.26,247.80 L408.26,247.80 L409.27,247.80 L410.27,247.80 L411.27,247.80 L412.27,247.80 L413.28,247.80 L414.28,247.80 L415.28,247.80 L416.28,247.80 L417.28,247.80 L418.29,247.80 L419.29,247.80 L420.29,247.80 L421.29,247.80 L422.30,247.80 L423.30,247.80 L424.30,247.80 L425.30,247.80 L426.30,247.80 L427.31,247.80 L428.31,247.80 L429.31,247.80 L430.31,247.80 L431.32,247.80 L432.32,247.80 L433.32,247.80 L434.32,247.80 L435.33,247.80 L436.33,247.80 L437.33,247.80 L438.33,247.80 L439.33,247.80 L440.34,247.80 L441.34,247.80 L442.34,247.80 L443.34,247.80 L444.35,247.80 L445.35,247.80 L446.35,247.80 L447.35,247.80 L448.36,247.80 L449.36,247.80 L450.36,247.80 L451.36,247.80 L452.36,247.80 L453.37,247.80 L454.37,247.80 L455.37,247.80 L456.37,247.80 L457.38,247.80 L458.38,247.80 L459.38,247.80 L460.38,247.80 L461.38,247.80 L462.39,247.80 L463.39,247.80 L464.39,247.80 L465.39,247.80 L466.40,247.80 L467.40,247.80 L468.40,247.80 L469.40,247.80 L470.41,247.80 L471.41,247.80 L472.41,247.80 L473.41,247.80 L474.41,247.80 L475.42,247.80 L476.42,247.80 L477.42,247.80 L478.42,247.80 L479.43,247.80 L480.43,247.80 L481.43,247.80 L482.43,247.80 L483.43,247.80 L484.44,247.80 L485.44,247.80 L486.44,247.80 L487.44,247.80 L488.45,247.80 L489.45,247.80 L490.45,247.80 L491.45,247.80 L492.46,247.80 L493.46,247.80 L494.46,247.80 L495.46,247.80 L496.46,247.80 L497.47,247.80 L498.47,247.80 L499.47,247.80 L500.47,247.80 L501.48,247.80 L502.48,247.80 L503.48,247.80 L504.48,247.80 L505.49,247.80 L506.49,247.80 L507.49,247.80 L508.49,247.80 L509.49,247.79 L510.50,247.78 L511.50,247.76 L512.50,247.72 L513.50,247.66 L514.50,247.56 L515.50,247.40 L516.50,247.16 L517.49,246.82 L518.48,246.37 L519.44,245.81 L520.36,245.17 L521.22,244.45 L522.02,243.68 L522.74,242.85 L523.38,242.00 L523.96,241.11 L524.49,240.22 L524.99,239.31 L525.47,238.40 L525.92,237.47 L526.34,236.54 L526.75,235.61 L527.15,234.67 L527.54,233.73 L527.92,232.78 L528.30,231.84 L528.68,230.89 L529.05,229.93 L529.42,228.98 L529.78,228.02 L530.14,227.06 L530.50,226.10 L530.86,225.14 L531.22,224.18 L531.58,223.22 L531.94,222.26 L532.30,221.30 L532.66,220.34 L533.02,219.38 L533.37,218.42 L533.71,217.45 L534.03,216.49 L534.34,215.52 L534.63,214.55 L534.91,213.57 L535.19,212.60 L535.46,211.62 L535.74,210.65 L536.01,209.67 L536.28,208.69 L536.55,207.72 L536.83,206.74 L537.10,205.77 L537.37,204.79 L537.65,203.81 L537.92,202.84 L538.19,201.86 L538.46,200.88 L538.72,199.90 L538.99,198.91 L539.25,197.92 L539.51,196.93 L539.77,195.94 L540.03,194.96 L540.29,193.97 L540.55,192.98 L540.81,191.99 L541.07,191.00 L541.32,190.01 L541.58,189.03 L541.83,188.05 L542.08,187.07 L542.33,186.08 L542.59,185.10 L542.84,184.12 L543.09,183.14 L543.34,182.16 L543.59,181.18 L543.84,180.19 L544.10,179.21 L544.35,178.23 L544.60,177.25 L544.85,176.27 L545.10,175.29 L545.36,174.31 L545.61,173.32 L545.86,172.34 L546.11,171.36 L546.36,170.38 L546.61,169.40 L546.87,168.42 L547.12,167.44 L547.37,166.45 L547.62,165.47 L547.88,164.49 L548.13,163.51 L548.38,162.53 L548.64,161.55 L548.89,160.56 L549.15,159.58 L549.40,158.60 L549.65,157.62 L549.91,156.64 L550.16,155.65 L550.42,154.67 L550.67,153.69 L550.93,152.71 L551.18,151.73 L551.44,150.75 L551.69,149.76 L551.95,148.78 L552.20,147.80 L552.45,146.82 L552.71,145.84 L552.96,144.85 L553.22,143.87 L553.47,142.89 L553.73,141.91 L553.98,140.93 L554.24,139.95 L554.49,138.97 L554.74,137.99 L555.00,137.01 L555.25,136.03 L555.50,135.06 L555.75,134.09 L556.01,133.11 L556.26,132.14 L556.51,131.17 L556.76,130.20 L557.01,129.23 L557.26,128.26 L557.51,127.29 L557.77,126.31 L558.02,125.34 L558.27,124.37 L558.52,123.40 L558.77,122.43 L559.02,121.45 L559.27,120.47 L559.51,119.48 L559.76,118.49 L560.00,117.50 L560.24,116.50 L560.48,115.50 L560.72,114.50 L560.96,113.50 L561.20,112.50 L561.44,111.51 L561.68,110.51 L561.92,109.52 L562.16,108.54 L562.41,107.56 L562.65,106.58 L562.89,105.60 L563.13,104.62 L563.38,103.64 L563.62,102.66 L563.86,101.68 L564.10,100.70 L564.35,99.72 L564.59,98.74 L564.83,97.77 L565.07,96.79 L565.32,95.81 L565.56,94.83 L565.80,93.85 L566.04,92.87 L566.29,91.89 L566.53,90.91 L566.77,89.94 L567.01,88.96 L567.26,87.98 L567.50,87.00" fill="none" stroke="#0000ff" stroke-width="2.2" stroke-linejoin="round" stroke-linecap="butt"/><path d="M380.60,248.00 L380.64,247.00 L380.68,246.00 L380.72,245.00 L380.76,244.00 L380.80,243.00 L380.84,242.00 L380.88,241.00 L380.92,240.00 L380.96,239.00 L381.00,238.00 L381.04,237.00 L381.08,236.00 L381.12,235.00 L381.15,234.00 L381.19,233.00 L381.23,232.00 L381.27,231.00 L381.31,230.00 L381.35,229.00 L381.38,228.00 L381.42,227.00 L381.46,226.00 L381.50,225.00 L381.55,224.00 L381.59,223.00 L381.64,222.00 L381.68,221.00 L381.73,220.00 L381.78,219.00 L381.82,218.00 L381.87,217.00 L381.92,216.00 L381.96,215.00 L382.01,214.00 L382.05,213.00 L382.10,212.00 L382.16,211.00 L382.22,210.00 L382.28,209.00 L382.33,208.00 L382.39,207.00 L382.45,206.00 L382.51,205.00 L382.57,204.00 L382.63,203.00 L382.68,202.00 L382.74,201.00 L382.81,200.00 L382.89,199.00 L382.98,198.00 L383.07,197.00 L383.16,196.00 L383.25,195.00 L383.34,194.00 L383.43,193.00 L383.52,192.00 L383.61,191.00 L383.72,190.00 L383.83,189.00 L383.96,188.00 L384.09,187.00 L384.22,186.00 L384.35,185.00 L384.48,184.00 L384.61,183.00 L384.74,182.00 L384.87,181.00 L385.02,180.00 L385.18,179.00 L385.36,178.00 L385.53,177.00 L385.71,176.00 L385.89,175.00 L386.07,174.00 L386.25,173.00 L386.43,172.00 L386.65,171.00 L386.91,170.00 L387.20,169.00 L387.50,168.00 L387.80,167.00 L388.11,166.00 L388.43,165.00 L388.79,164.00 L389.16,163.00 L389.54,162.00 L389.91,161.00 L390.26,160.00 L390.56,159.00 L390.84,158.00 L391.11,157.00 L391.38,156.00 L391.65,155.00 L391.92,154.00 L392.19,153.00 L392.46,152.00 L392.74,151.00 L393.04,150.02 L393.37,149.05 L393.72,148.10 L394.08,147.15 L394.44,146.20 L394.80,145.25 L395.16,144.30 L395.52,143.35 L395.88,142.40 L396.25,141.45 L396.66,140.52 L397.12,139.59 L397.62,138.68 L398.13,137.77 L398.64,136.87 L399.17,135.97 L399.74,135.09 L400.36,134.24 L401.00,133.40 L401.64,132.56 L402.30,131.72 L402.98,130.89 L403.68,130.07 L404.40,129.25 L405.12,128.43 L405.84,127.62 L406.57,126.83 L407.29,126.06 L408.02,125.29 L408.75,124.53 L409.47,123.76 L410.21,123.01 L410.95,122.25 L411.70,121.50 L412.45,120.75 L413.20,120.00 L413.95,119.25 L414.70,118.50 L415.46,117.76 L416.21,117.01 L416.97,116.27 L417.73,115.53 L418.49,114.79 L419.24,114.05 L420.00,113.33 L420.75,112.64 L421.50,111.98 L422.25,111.31 L423.00,110.65 L423.75,109.99 L424.50,109.33 L425.25,108.66 L426.01,108.00 L426.78,107.34 L427.55,106.68 L428.32,106.03 L429.10,105.37 L429.87,104.71 L430.65,104.05 L431.42,103.39 L432.19,102.74 L432.97,102.08 L433.74,101.42 L434.52,100.76 L435.29,100.10 L436.06,99.45 L436.84,98.79 L437.62,98.13 L438.40,97.49 L439.20,96.85 L440.00,96.22 L440.80,95.58 L441.60,94.95 L442.40,94.32 L443.20,93.68 L444.00,93.05 L444.80,92.42 L445.60,91.78 L446.40,91.15 L447.20,90.52 L448.00,89.88 L448.80,89.25 L449.60,88.63 L450.41,88.01 L451.22,87.42 L452.03,86.83 L452.84,86.24 L453.65,85.65 L454.46,85.06 L455.27,84.47 L456.08,83.88 L456.89,83.29 L457.70,82.70 L458.51,82.11 L459.32,81.52 L460.14,80.94 L460.95,80.35 L461.76,79.76 L462.57,79.17 L463.38,78.58 L464.19,77.99 L465.03,77.43 L465.89,76.89 L466.77,76.37 L467.65,75.85 L468.53,75.33 L469.41,74.81 L470.29,74.29 L471.18,73.78 L472.06,73.26 L472.94,72.74 L473.82,72.22 L474.71,71.71 L475.59,71.19 L476.47,70.67 L477.35,70.15 L478.24,69.64 L479.12,69.12 L480.00,68.60 L480.87,68.09 L481.74,67.58 L482.61,67.07 L483.48,66.57 L484.35,66.06 L485.22,65.55 L486.09,65.04 L486.96,64.53 L487.83,64.02 L488.70,63.51 L489.57,63.00 L490.43,62.50 L491.30,61.99 L492.17,61.48 L493.04,60.97 L493.91,60.46 L494.78,59.95 L495.65,59.44 L496.52,58.93 L497.39,58.43 L498.26,57.92 L499.13,57.41 L499.99,56.89 L500.85,56.36 L501.70,55.82 L502.55,55.28 L503.40,54.74 L504.26,54.20 L505.11,53.66 L505.96,53.12 L506.81,52.58 L507.66,52.04 L508.51,51.50 L509.36,50.96 L510.21,50.41 L511.06,49.87 L511.91,49.33 L512.77,48.79 L513.62,48.25 L514.47,47.71 L515.32,47.17 L516.17,46.63 L517.02,46.09 L517.87,45.55 L518.72,45.01 L519.58,44.48 L520.44,43.95 L521.30,43.44 L522.17,42.94 L523.04,42.43 L523.91,41.93 L524.78,41.43 L525.65,40.92 L526.52,40.42 L527.39,39.91 L528.26,39.41 L529.13,38.90 L530.00,38.40 L530.87,37.90 L531.74,37.39 L532.61,36.89 L533.48,36.38 L534.35,35.88 L535.22,35.37 L536.09,34.87 L536.96,34.37 L537.83,33.86 L538.70,33.36 L539.57,32.87 L540.47,32.40 L541.38,31.97 L542.29,31.54 L543.21,31.12 L544.13,30.70 L545.04,30.27 L545.96,29.85 L546.88,29.43 L547.79,29.00 L548.71,28.58 L549.63,28.16 L550.54,27.73 L551.46,27.31 L552.38,26.89 L553.29,26.46 L554.21,26.04 L555.13,25.62 L556.04,25.19 L556.96,24.77 L557.88,24.35 L558.79,23.92 L559.71,23.50 L560.62,23.08 L561.54,22.65 L562.46,22.23 L563.38,21.80 L564.29,21.38 L565.21,20.96 L566.12,20.53 L567.04,20.11 L567.50,19.90" fill="none" stroke="#0000ff" stroke-width="2.3" stroke-linejoin="round" stroke-linecap="butt"/><path d="M380.30,248.00 L380.33,247.00 L380.36,246.00 L380.39,245.00 L380.42,244.00 L380.45,243.00 L380.48,242.00 L380.51,241.00 L380.54,240.00 L380.57,239.00 L380.60,238.00 L380.63,237.00 L380.66,236.00 L380.69,235.00 L380.72,234.00 L380.75,233.00 L380.78,232.00 L380.82,231.00 L380.85,230.00 L380.88,229.00 L380.91,228.00 L380.94,227.00 L380.97,226.00 L381.00,225.00 L381.04,224.00 L381.08,223.00 L381.12,222.00 L381.15,221.00 L381.19,220.00 L381.23,219.00 L381.27,218.00 L381.31,217.00 L381.35,216.00 L381.38,215.00 L381.42,214.00 L381.46,213.00 L381.50,212.00 L381.55,211.00 L381.60,210.00 L381.65,209.00 L381.70,208.00 L381.75,207.00 L381.80,206.00 L381.85,205.00 L381.90,204.00 L381.95,203.00 L382.00,202.00 L382.05,201.00 L382.12,200.00 L382.19,199.00 L382.28,198.00 L382.37,197.00 L382.46,196.00 L382.55,195.00 L382.64,194.00 L382.73,193.00 L382.82,192.00 L382.91,191.00 L383.02,190.00 L383.13,189.00 L383.26,188.00 L383.39,187.00 L383.52,186.00 L383.65,185.00 L383.78,184.00 L383.91,183.00 L384.04,182.00 L384.17,181.00 L384.32,180.00 L384.49,179.00 L384.68,178.00 L384.87,177.00 L385.06,176.00 L385.24,175.00 L385.43,174.00 L385.62,173.00 L385.82,172.00 L386.04,171.00 L386.31,170.00 L386.60,169.00 L386.90,168.00 L387.20,167.00 L387.51,166.00 L387.84,165.00 L388.21,164.00 L388.60,163.00 L389.00,162.00 L389.39,161.00 L389.76,160.00 L390.08,159.00 L390.38,158.00 L390.67,157.00 L390.96,156.00 L391.25,155.00 L391.54,154.00 L391.83,153.00 L392.12,152.00 L392.42,151.00 L392.76,150.02 L393.14,149.06 L393.56,148.11 L393.99,147.16 L394.43,146.21 L394.86,145.26 L395.29,144.32 L395.72,143.37 L396.16,142.42 L396.61,141.48 L397.10,140.56 L397.64,139.65 L398.20,138.75 L398.76,137.85 L399.34,136.97 L399.94,136.12 L400.56,135.30 L401.20,134.50 L401.84,133.70 L402.49,132.90 L403.16,132.11 L403.85,131.33 L404.55,130.55 L405.25,129.77 L405.95,129.00 L406.66,128.25 L407.36,127.51 L408.07,126.78 L408.78,126.05 L409.49,125.33 L410.22,124.61 L410.95,123.90 L411.70,123.20 L412.45,122.50 L413.20,121.80 L413.95,121.10 L414.70,120.41 L415.46,119.72 L416.21,119.03 L416.97,118.34 L417.73,117.66 L418.49,116.97 L419.24,116.29 L420.00,115.61 L420.75,114.94 L421.50,114.28 L422.25,113.61 L423.00,112.95 L423.75,112.29 L424.50,111.63 L425.25,110.96 L426.01,110.30 L426.78,109.65 L427.55,109.00 L428.32,108.35 L429.10,107.69 L429.87,107.04 L430.65,106.39 L431.42,105.74 L432.19,105.09 L432.97,104.44 L433.74,103.78 L434.52,103.13 L435.29,102.48 L436.06,101.83 L436.84,101.18 L437.62,100.53 L438.40,99.89 L439.20,99.26 L440.00,98.63 L440.80,98.01 L441.60,97.38 L442.40,96.75 L443.20,96.13 L444.00,95.50 L444.80,94.87 L445.60,94.25 L446.40,93.62 L447.20,92.99 L448.00,92.37 L448.80,91.74 L449.60,91.12 L450.41,90.51 L451.22,89.92 L452.03,89.33 L452.84,88.74 L453.65,88.15 L454.46,87.56 L455.27,86.97 L456.08,86.38 L456.89,85.79 L457.70,85.20 L458.51,84.61 L459.32,84.02 L460.14,83.44 L460.95,82.85 L461.76,82.26 L462.57,81.67 L463.38,81.08 L464.19,80.50 L465.03,79.93 L465.89,79.39 L466.77,78.88 L467.65,78.36 L468.53,77.85 L469.41,77.34 L470.29,76.83 L471.18,76.32 L472.06,75.81 L472.94,75.29 L473.82,74.78 L474.71,74.27 L475.59,73.76 L476.47,73.25 L477.35,72.74 L478.24,72.22 L479.12,71.71 L480.00,71.20 L480.87,70.69 L481.74,70.18 L482.61,69.67 L483.48,69.17 L484.35,68.66 L485.22,68.15 L486.09,67.64 L486.96,67.13 L487.83,66.62 L488.70,66.11 L489.57,65.60 L490.43,65.10 L491.30,64.59 L492.17,64.08 L493.04,63.57 L493.91,63.06 L494.78,62.55 L495.65,62.04 L496.52,61.53 L497.39,61.03 L498.26,60.52 L499.13,60.01 L499.99,59.49 L500.85,58.96 L501.70,58.42 L502.55,57.88 L503.40,57.34 L504.26,56.80 L505.11,56.26 L505.96,55.72 L506.81,55.18 L507.66,54.64 L508.51,54.10 L509.36,53.56 L510.21,53.01 L511.06,52.47 L511.91,51.93 L512.77,51.39 L513.62,50.85 L514.47,50.31 L515.32,49.77 L516.17,49.23 L517.02,48.69 L517.87,48.15 L518.72,47.61 L519.58,47.08 L520.44,46.56 L521.30,46.05 L522.17,45.55 L523.04,45.05 L523.91,44.55 L524.78,44.05 L525.65,43.55 L526.52,43.05 L527.39,42.55 L528.26,42.05 L529.13,41.55 L530.00,41.05 L530.87,40.55 L531.74,40.05 L532.61,39.55 L533.48,39.05 L534.35,38.55 L535.22,38.05 L536.09,37.55 L536.96,37.05 L537.83,36.55 L538.70,36.05 L539.57,35.57 L540.47,35.11 L541.38,34.67 L542.29,34.25 L543.21,33.83 L544.13,33.41 L545.04,32.99 L545.96,32.57 L546.88,32.15 L547.79,31.73 L548.71,31.31 L549.63,30.89 L550.54,30.47 L551.46,30.05 L552.38,29.63 L553.29,29.21 L554.21,28.79 L555.13,28.37 L556.04,27.95 L556.96,27.53 L557.88,27.11 L558.79,26.69 L559.71,26.27 L560.62,25.85 L561.54,25.43 L562.46,25.01 L563.38,24.59 L564.29,24.17 L565.21,23.75 L566.12,23.33 L567.04,22.91 L567.50,22.70" fill="none" stroke="#000" stroke-width="2.3" stroke-linejoin="round" stroke-linecap="butt"/></g><g clip-path="url(#cr2)"><path d="M401.72,124.90 L406.08,121.30 M413.27,115.24 L418.03,111.16 M424.62,104.50 L426.98,101.70 M433.88,95.45 L440.62,90.85 M448.73,86.15 L460.87,80.25 M469.45,76.43 L484.15,70.47 M492.48,66.19 L501.02,60.81 M508.81,55.55 L514.49,51.45 M521.83,45.60 L526.37,41.60 M533.38,35.34 L537.52,31.56 M544.97,25.89 L552.23,21.31 M560.07,16.13 L567.50,11.00" stroke="#ff0000" stroke-width="2.4" fill="none"/><g fill="#ff0000"><circle cx="382.5" cy="188" r="3.5"/><circle cx="382.7" cy="178.6" r="3.5"/><circle cx="383.5" cy="168.5" r="3.5"/><circle cx="385.9" cy="158" r="3.5"/><circle cx="388.8" cy="148" r="3.5"/><circle cx="392" cy="138" r="3.5"/><circle cx="398.1" cy="127.9" r="3.5"/><circle cx="409.7" cy="118.3" r="3.5"/><circle cx="421.6" cy="108.1" r="3.5"/><circle cx="430.0" cy="98.1" r="3.5"/><circle cx="444.5" cy="88.2" r="3.5"/><circle cx="465.1" cy="78.2" r="3.5"/><circle cx="488.5" cy="68.7" r="3.5"/><circle cx="505" cy="58.3" r="3.5"/><circle cx="518.3" cy="48.7" r="3.5"/><circle cx="529.9" cy="38.5" r="3.5"/><circle cx="541.0" cy="28.4" r="3.5"/><circle cx="556.2" cy="18.8" r="3.5"/></g></g><g font-family="Liberation Sans, sans-serif" fill="#000"><text x="35.20" y="256.60" text-anchor="end" font-size="19.5" >0</text><text x="35.20" y="209.80" text-anchor="end" font-size="19.5" >2</text><text x="35.20" y="163.00" text-anchor="end" font-size="19.5" >4</text><text x="35.20" y="116.20" text-anchor="end" font-size="19.5" >6</text><text x="35.20" y="69.40" text-anchor="end" font-size="19.5" >8</text><text x="35.20" y="22.60" text-anchor="end" font-size="19.5" >10</text><text x="48.60" y="280.30" text-anchor="middle" font-size="19.5" >0</text><text x="85.54" y="280.30" text-anchor="middle" font-size="19.5" >1</text><text x="122.48" y="280.30" text-anchor="middle" font-size="19.5" >2</text><text x="159.42" y="280.30" text-anchor="middle" font-size="19.5" >3</text><text x="196.36" y="280.30" text-anchor="middle" font-size="19.5" >4</text><text x="233.30" y="280.30" text-anchor="middle" font-size="19.5" >5</text><text x="242.00" y="256.60" text-anchor="start" font-size="19.5" >0,0</text><text x="242.00" y="208.34" text-anchor="start" font-size="19.5" >0,2</text><text x="242.00" y="160.08" text-anchor="start" font-size="19.5" >0,4</text><text x="242.00" y="111.82" text-anchor="start" font-size="19.5" >0,6</text><text x="242.00" y="63.56" text-anchor="start" font-size="19.5" >0,8</text><text x="242.00" y="15.30" text-anchor="start" font-size="19.5" >1,0</text><text x="366.20" y="253.20" text-anchor="end" font-size="19.5" >0</text><text x="366.20" y="207.06" text-anchor="end" font-size="19.5" >2</text><text x="366.20" y="160.92" text-anchor="end" font-size="19.5" >4</text><text x="366.20" y="114.78" text-anchor="end" font-size="19.5" >6</text><text x="366.20" y="68.64" text-anchor="end" font-size="19.5" >8</text><text x="366.20" y="22.50" text-anchor="end" font-size="19.5" >10</text><text x="380.20" y="277.40" text-anchor="middle" font-size="19.5" >0</text><text x="427.02" y="277.40" text-anchor="middle" font-size="19.5" >3</text><text x="473.85" y="277.40" text-anchor="middle" font-size="19.5" >6</text><text x="520.67" y="277.40" text-anchor="middle" font-size="19.5" >9</text><text x="567.50" y="277.40" text-anchor="middle" font-size="19.5" >12</text><text x="576.50" y="253.40" text-anchor="start" font-size="19.5" >0,0</text><text x="576.50" y="194.05" text-anchor="start" font-size="19.5" >0,1</text><text x="576.50" y="134.70" text-anchor="start" font-size="19.5" >0,2</text><text x="576.50" y="75.35" text-anchor="start" font-size="19.5" >0,3</text><text x="576.50" y="16.00" text-anchor="start" font-size="19.5" >0,4</text></g><g font-family="Liberation Sans, sans-serif" fill="#000" font-size="20"><text transform="translate(16.3,139.5) rotate(-90)" text-anchor="middle">Voltage&#160;&#160;(V)</text><text transform="translate(345.5,132) rotate(-90)" text-anchor="middle">Voltage&#160;&#160;(V)</text><text transform="translate(287,136.2) rotate(-90)" text-anchor="middle">Power (W)</text><text transform="translate(624.4,131.9) rotate(-90)" text-anchor="middle">Power (W)</text><text x="140.8" y="300.3" text-anchor="middle">Current density (kA/cm<tspan dx="1.6" dy="-9.3" font-size="10">2</tspan><tspan dx="0.6" dy="9.3">)</tspan></text><text x="474.0" y="300.8" text-anchor="middle" font-size="20.2">Current density (kA/cm<tspan dx="1.0" dy="-11" font-size="10.5">2</tspan><tspan dx="0.2" dy="11">)</tspan></text></g><g font-family="Liberation Serif, serif" font-size="23.5" fill="#000"><text transform="translate(96.7,131.9) scale(0.99,1.06)">T=77 K</text><text transform="translate(427.3,145.5) scale(0.985,1.06)">T=250 K</text></g><line x1="71" y1="21.5" x2="103" y2="21.5" stroke="#0000ff" stroke-width="2.4"/><line x1="71" y1="37.0" x2="103" y2="37.0" stroke="#000" stroke-width="2.3"/><line x1="71" y1="51.6" x2="103" y2="51.6" stroke="#ff0000" stroke-width="3.6"/><circle cx="87" cy="51.6" r="3.6" fill="#ff0000"/><g font-family="Liberation Sans, sans-serif" font-size="11.5" fill="#1a1a1a"><text transform="translate(105.0,25.6) scale(1,1.07)">exp. 2000 x 25 <tspan font-family="Liberation Serif, serif">&#956;</tspan>m</text><text transform="translate(105.0,41.1) scale(1,1.07)">exp. 2000 x 15 <tspan font-family="Liberation Serif, serif">&#956;</tspan>m</text><text transform="translate(105.0,55.7) scale(1,1.07)">calculated</text></g><text x="52.6" y="26.7" font-family="Liberation Sans, sans-serif" font-size="19.5" fill="#000">a)</text><line x1="397.7" y1="19.1" x2="429.8" y2="19.1" stroke="#0000ff" stroke-width="2.4"/><line x1="397.7" y1="34.1" x2="429.8" y2="34.1" stroke="#000" stroke-width="2.3"/><line x1="397.7" y1="49.2" x2="429.8" y2="49.2" stroke="#ff0000" stroke-width="2.0"/><circle cx="413.5" cy="49.2" r="3.6" fill="#ff0000"/><g font-family="Liberation Sans, sans-serif" font-size="11.5" fill="#1a1a1a"><text transform="translate(432.7,23.3) scale(1,1.07)">exp. 2000 x 25 <tspan font-family="Liberation Serif, serif">&#956;</tspan>m</text><text transform="translate(432.7,38.300000000000004) scale(1,1.07)">exp. 2000 x 15 <tspan font-family="Liberation Serif, serif">&#956;</tspan>m</text><text transform="translate(432.7,53.400000000000006) scale(1,1.07)">calculated</text></g><text x="381.8" y="30.9" font-family="Liberation Sans, sans-serif" font-size="19.5" fill="#000">b)</text>
</svg>
</body></html>
